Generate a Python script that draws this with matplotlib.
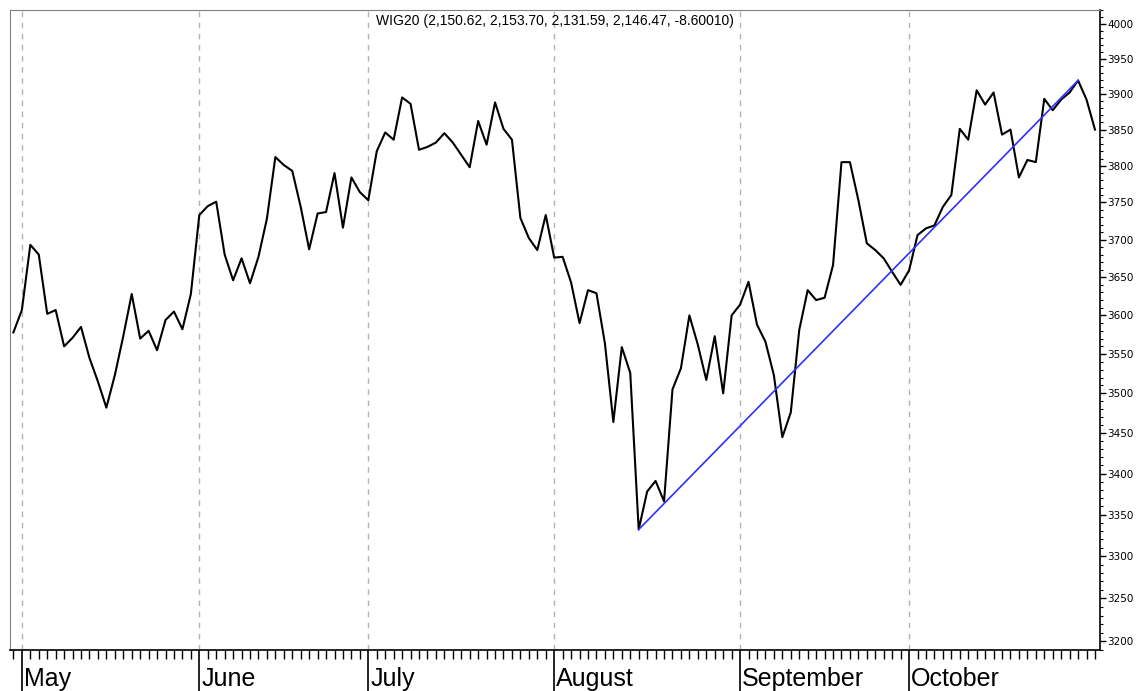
import matplotlib
matplotlib.use("Agg")
import matplotlib.pyplot as plt
from matplotlib.ticker import FixedLocator, NullFormatter, FuncFormatter

# daily closes, late April .. late October (one value per trading day)
closes = [3578, 3607, 3693, 3680, 3602, 3607, 3560, 3571, 3585, 3545,
          3515, 3482, 3523, 3573, 3628, 3570, 3580, 3555, 3594, 3605,
          3582, 3628, 3733, 3745, 3751, 3680, 3646, 3675, 3642, 3677,
          3728, 3812, 3801, 3793, 3744, 3687, 3735, 3737, 3790, 3716,
          3784, 3764, 3753, 3820, 3846, 3836, 3895, 3886, 3822, 3826,
          3832, 3845, 3832, 3815, 3798, 3862, 3829, 3888, 3851, 3836,
          3729, 3702, 3686, 3733, 3676, 3677, 3643, 3590, 3633, 3629,
          3564, 3464, 3559, 3526, 3332, 3378, 3391, 3366, 3505, 3532,
          3600, 3562, 3517, 3573, 3500, 3600, 3614, 3644, 3588, 3566,
          3523, 3445, 3476, 3581, 3633, 3620, 3623, 3666, 3805, 3805,
          3753, 3695, 3686, 3675, 3657, 3640, 3659, 3706, 3715, 3719,
          3744, 3760, 3851, 3836, 3905, 3885, 3902, 3843, 3850, 3784,
          3808, 3805, 3893, 3877, 3892, 3902, 3919, 3892, 3850]
days = list(range(len(closes)))

month_names = ["May", "June", "July", "August", "September", "October"]
month_starts = [1, 22, 42, 64, 86, 106]
price_ticks = list(range(3200, 4001, 50))
price_minor = list(range(3190, 4021, 10))

# trend line from the August low to the October high
trend_from, trend_to = 74, 126

title = "WIG20 (2,150.62, 2,153.70, 2,131.59, 2,146.47, -8.60010)"

fig = plt.figure(figsize=(11.41, 6.91), dpi=100)
ax = fig.add_axes([0.0088, 0.0593, 0.9553, 0.9262])

for m in month_starts:
    ax.axvline(m, color="#b4b4b4", ls=(0, (4, 4)), lw=1, zorder=0)

ax.plot(days, closes, color="black", lw=1.5)
ax.plot([trend_from, trend_to], [closes[trend_from], closes[trend_to]],
        color="#2f2fff", lw=1.2)

ax.set_yscale("log")
ax.set_ylim(3190, 4020)
ax.set_xlim(-0.4, 128.6)

ax.yaxis.tick_right()
ax.yaxis.set_major_locator(FixedLocator(price_ticks))
ax.yaxis.set_major_formatter(FuncFormatter(lambda v, p: f"{v:.0f}"))
ax.yaxis.set_minor_locator(FixedLocator(price_minor))
ax.yaxis.set_minor_formatter(NullFormatter())
ax.tick_params(axis="y", which="major", length=4, width=1, labelsize=7.5, pad=1)
ax.tick_params(axis="y", which="minor", length=2.5, width=0.8)

ax.set_xticks(month_starts)
ax.set_xticklabels([])
ax.set_xticks(days, minor=True)
ax.tick_params(axis="x", which="major", length=30, width=1.2)
ax.tick_params(axis="x", which="minor", length=6.5, width=1)

for m, name in zip(month_starts, month_names):
    ax.annotate(name, xy=(m, 0), xycoords=("data", "axes fraction"),
                xytext=(1.5, -12.5), textcoords="offset points",
                ha="left", va="top", fontsize=18, family="Liberation Sans",
                annotation_clip=False)

ax.text(0.5, 0.993, title, transform=ax.transAxes, ha="center", va="top",
        fontsize=10, family="Liberation Sans")

ax.spines["top"].set_color("#808080")
ax.spines["left"].set_color("#808080")
ax.spines["bottom"].set_linewidth(1.2)
ax.spines["right"].set_linewidth(1.2)

fig.savefig("out.png", dpi=100)
